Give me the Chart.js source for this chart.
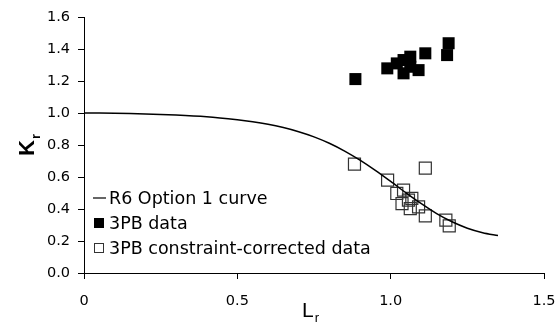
<!DOCTYPE html>
<html>
<head>
<meta charset="utf-8">
<script src="https://cdn.jsdelivr.net/npm/chart.js@4"></script>
<style>
  body { margin: 0; background: #fff; }
</style>
</head>
<body>
<canvas id="krChart" width="557" height="325"></canvas>
<script>
// R6 Option 1 curve
const curveLr = [0, 0.1, 0.2, 0.3, 0.4, 0.5, 0.55, 0.6, 0.65, 0.7, 0.75, 0.8, 0.85, 0.9, 0.95, 1.0, 1.05, 1.1, 1.15, 1.2, 1.25, 1.3, 1.35];
const curveKr = [1.000, 0.999, 0.994, 0.987, 0.976, 0.958, 0.946, 0.930, 0.909, 0.883, 0.851, 0.811, 0.762, 0.705, 0.641, 0.572, 0.501, 0.433, 0.371, 0.320, 0.280, 0.252, 0.234];

// 3PB data (filled squares)
const dataLr = [0.885, 0.989, 1.020, 1.042, 1.064, 1.064, 1.042, 1.091, 1.113, 1.184, 1.189];
const dataKr = [1.212, 1.279, 1.310, 1.331, 1.352, 1.289, 1.248, 1.268, 1.373, 1.362, 1.436];

// 3PB constraint-corrected data (open squares)
const corrLr = [0.882, 0.990, 1.020, 1.042, 1.037, 1.058, 1.069, 1.064, 1.091, 1.113, 1.113, 1.180, 1.191];
const corrKr = [0.680, 0.580, 0.497, 0.518, 0.434, 0.455, 0.466, 0.403, 0.413, 0.357, 0.656, 0.330, 0.294];

const legendLabels = ["R6 Option 1 curve", "3PB data", "3PB constraint-corrected data"];

function toPoints(xs, ys) {
    return xs.map((x, i) => ({ x: x, y: ys[i] }));
}

const tickFont = { family: "DejaVu Sans", size: 14.5 };

// axis titles with subscripts + legend box inside the plot
const extras = {
    id: "extras",
    afterDraw(chart) {
        const ctx = chart.ctx;
        ctx.save();
        ctx.fillStyle = "#000";
        ctx.textAlign = "left";
        ctx.textBaseline = "alphabetic";

        // K_r, rotated
        ctx.save();
        ctx.translate(34, 156);
        ctx.rotate(-Math.PI / 2);
        ctx.font = "bold 22px 'Liberation Sans'";
        ctx.fillText("K", 0, 0);
        let kw = ctx.measureText("K").width;
        ctx.font = "bold 13px 'Liberation Sans'";
        ctx.fillText("r", kw + 1, 6);
        ctx.restore();

        // L_r
        ctx.font = "21px 'Liberation Sans'";
        ctx.fillText("L", 302, 317);
        let lw = ctx.measureText("L").width;
        ctx.font = "13px 'Liberation Sans'";
        ctx.fillText("r", 302 + lw + 1, 322);

        // legend
        const rows = [198, 223, 248];
        ctx.font = "17.5px 'DejaVu Sans'";
        ctx.textBaseline = "middle";
        ctx.strokeStyle = "#000";

        ctx.lineWidth = 1.2;
        ctx.beginPath();
        ctx.moveTo(93, rows[0]);
        ctx.lineTo(106, rows[0]);
        ctx.stroke();

        ctx.fillRect(94, rows[1] - 5, 10, 10);

        ctx.lineWidth = 1;
        ctx.strokeStyle = "#333";
        ctx.strokeRect(94.5, rows[2] - 4.5, 9, 9);

        legendLabels.forEach((t, i) => ctx.fillText(t, 109, rows[i] + 1));
        ctx.restore();
    }
};

new Chart(document.getElementById("krChart"), {
    type: "scatter",
    data: {
        datasets: [
            {
                label: legendLabels[0],
                data: toPoints(curveLr, curveKr),
                showLine: true,
                tension: 0.3,
                borderColor: "#000",
                borderWidth: 1.5,
                pointRadius: 0,
                fill: false
            },
            {
                label: legendLabels[1],
                data: toPoints(dataLr, dataKr),
                pointStyle: "rect",
                pointRadius: 8.5,
                backgroundColor: "#000",
                borderColor: "#000",
                borderWidth: 0
            },
            {
                label: legendLabels[2],
                data: toPoints(corrLr, corrKr),
                pointStyle: "rect",
                pointRadius: 8.5,
                backgroundColor: "rgba(0,0,0,0)",
                borderColor: "#333",
                borderWidth: 1.2
            }
        ]
    },
    options: {
        responsive: false,
        animation: false,
        layout: { padding: { left: 0, right: 13, top: 17, bottom: 0 } },
        plugins: {
            legend: { display: false },
            tooltip: { enabled: false }
        },
        scales: {
            x: {
                type: "linear",
                min: 0,
                max: 1.5,
                afterFit: (scale) => {
                    scale.height = 52;
                    scale.paddingRight = 0;
                    scale.paddingLeft = 0;
                },
                ticks: {
                    stepSize: 0.5,
                    color: "#000",
                    font: tickFont,
                    padding: 14,
                    maxRotation: 0
                },
                grid: {
                    drawOnChartArea: false,
                    drawTicks: true,
                    tickLength: 6,
                    color: "#000"
                },
                border: { color: "#000", width: 1 }
            },
            y: {
                type: "linear",
                min: 0,
                max: 1.6,
                afterFit: (scale) => { scale.width = 84; },
                ticks: {
                    stepSize: 0.2,
                    color: "#000",
                    font: tickFont,
                    padding: 8,
                    callback: (v) => v.toFixed(1)
                },
                grid: {
                    drawOnChartArea: false,
                    drawTicks: true,
                    tickLength: 6,
                    color: "#000"
                },
                border: { color: "#000", width: 1 }
            }
        }
    },
    plugins: [extras]
});
</script>
</body>
</html>
